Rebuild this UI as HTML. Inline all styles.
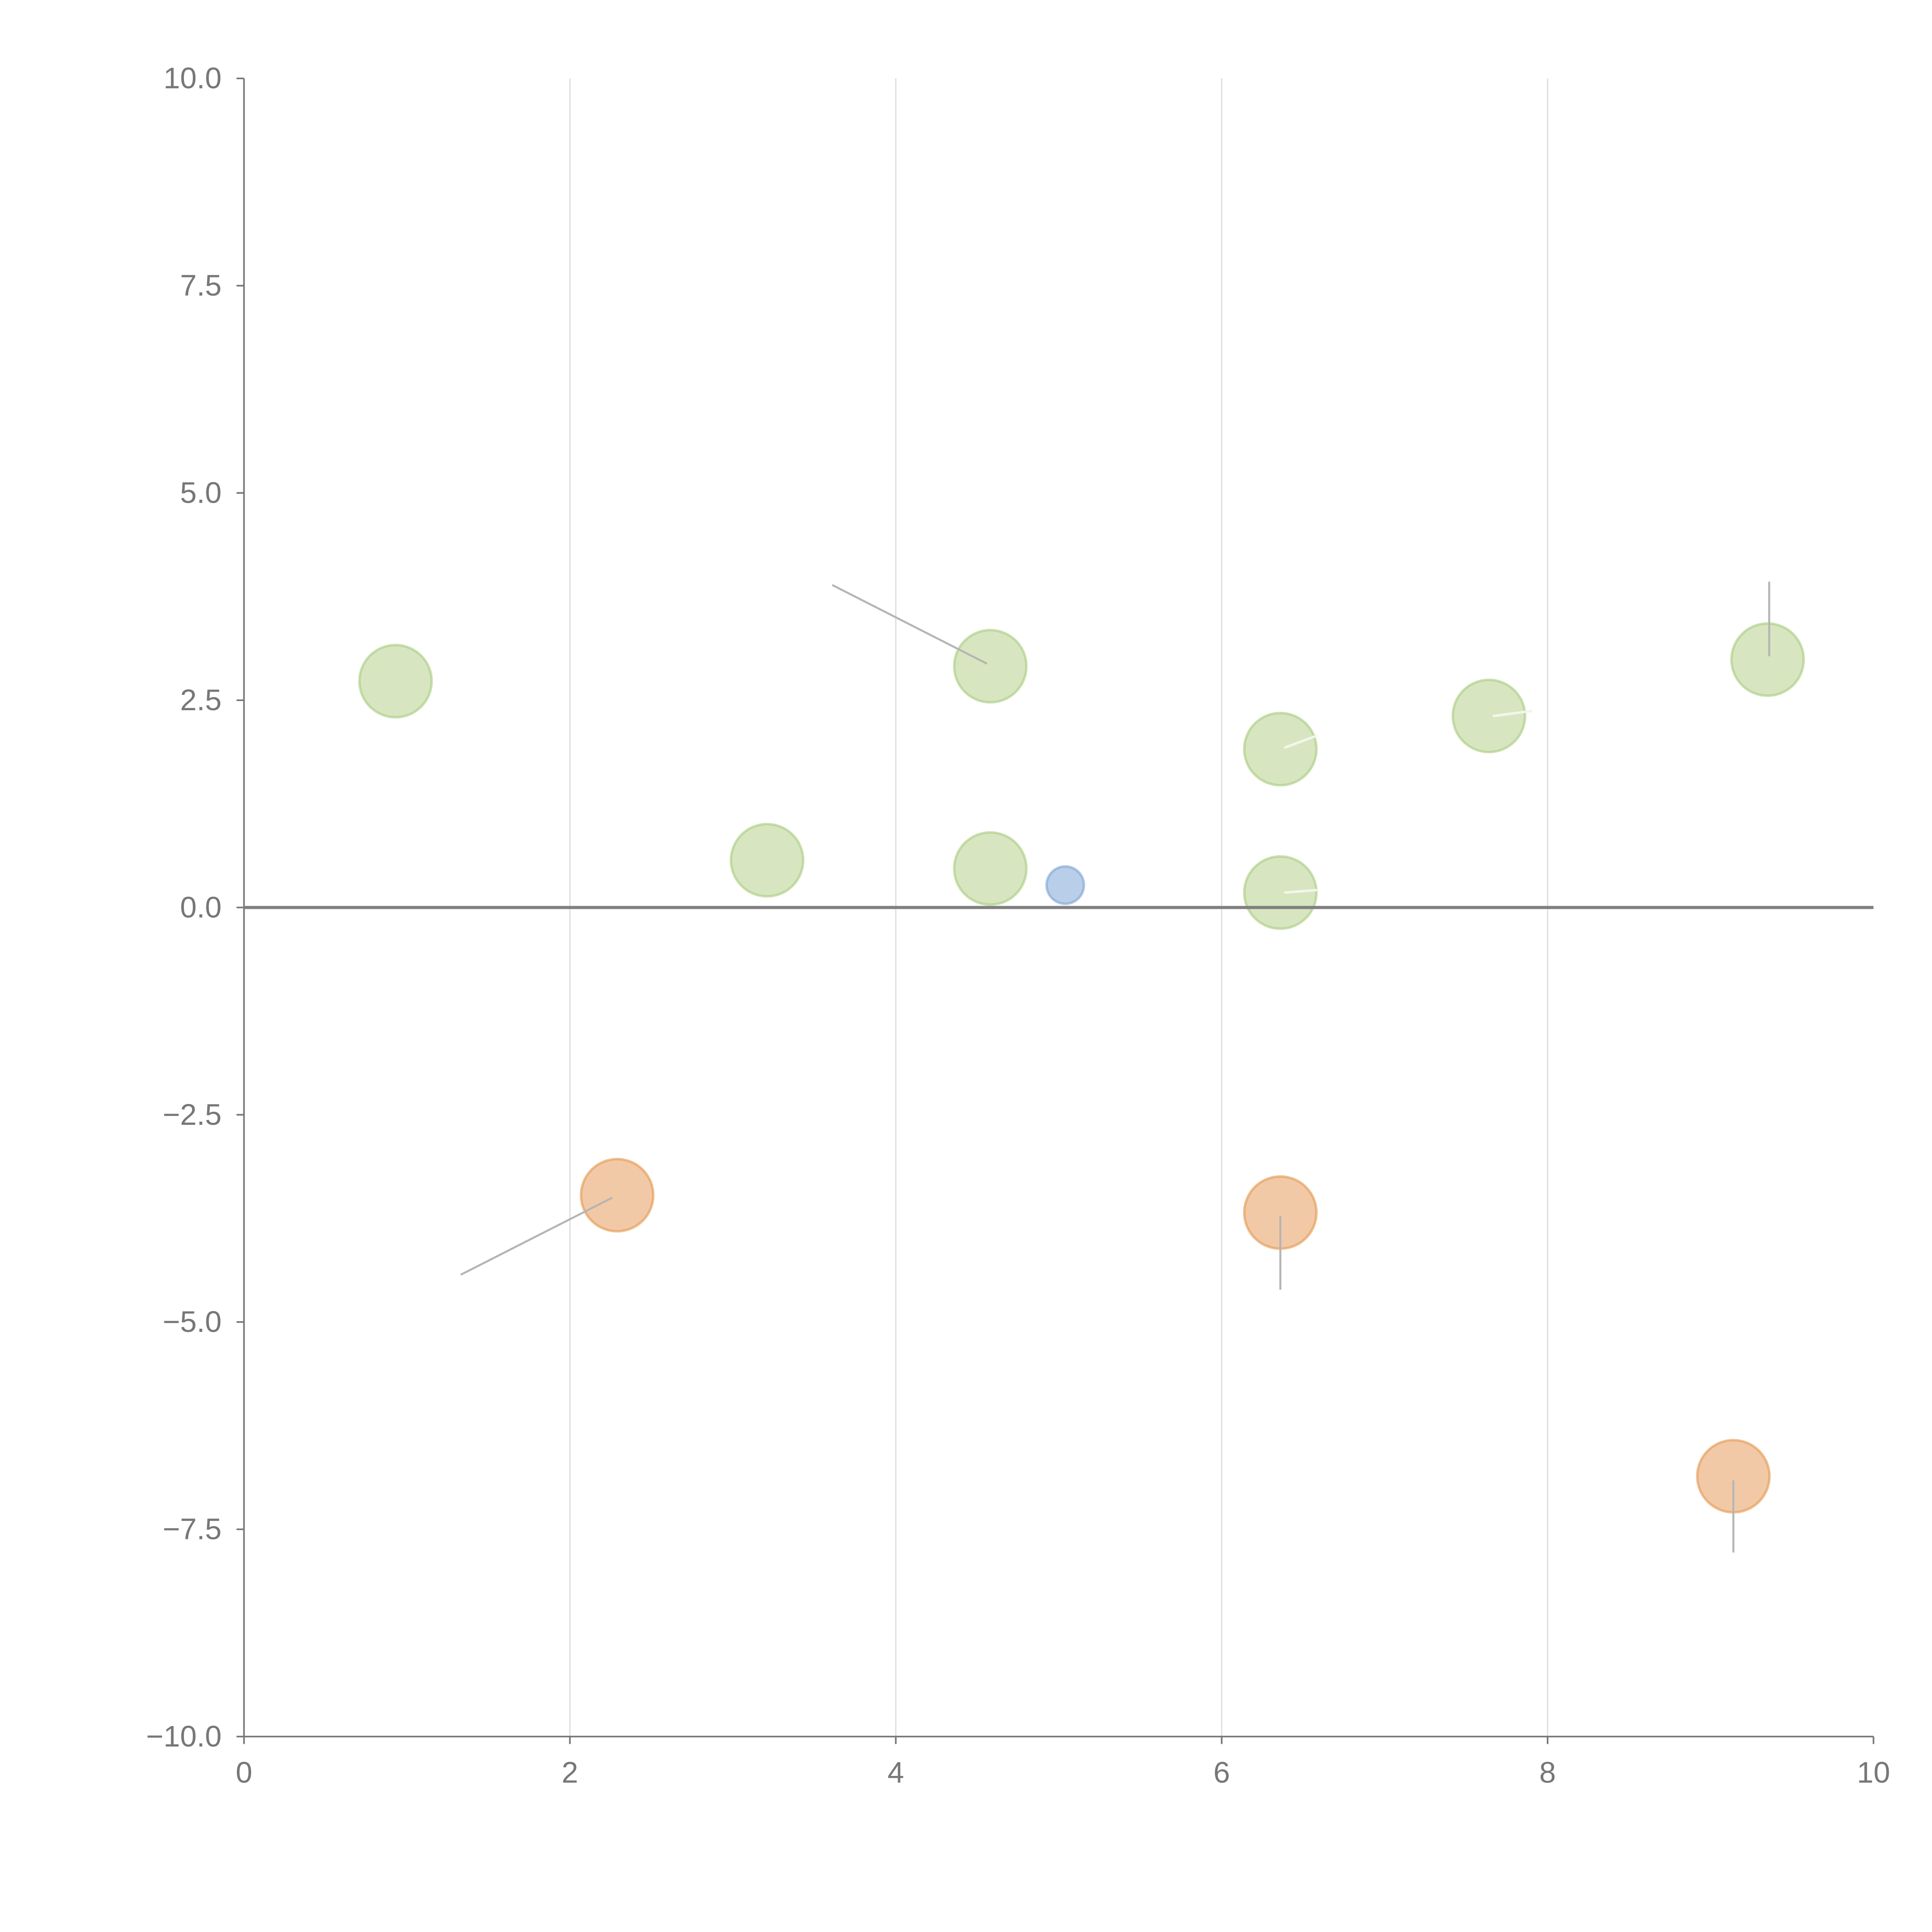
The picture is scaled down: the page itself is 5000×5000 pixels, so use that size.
<!DOCTYPE html>
<html><head><meta charset="utf-8"><style>
html,body{margin:0;padding:0;background:#fff;}
svg{display:block;}
text{font-family:"Liberation Sans",sans-serif;fill:#777;font-size:24px;}
</style></head><body>
<svg id="chart" width="5000" height="5000" viewBox="0 0 1552 1552" xmlns="http://www.w3.org/2000/svg">
<g id="grid"></g>
<g id="axes"></g>
<g id="marks"></g>
</svg>
<script>
const xTicks=[0,2,4,6,8,10];
const yTicks=[10,7.5,5,2.5,0,-2.5,-5,-7.5,-10];
const yTickLabels=["10.0","7.5","5.0","2.5","0.0","\u22122.5","\u22125.0","\u22127.5","\u221210.0"];
const greenX=[0.93,4.58,6.36,7.64,9.35,3.21,4.58,6.36];
const greenY=[2.73,2.91,1.91,2.31,2.99,0.57,0.47,0.18];
const blueX=[5.04];
const blueY=[0.27];
const orangeX=[2.29,6.36,9.14];
const orangeY=[-3.47,-3.68,-6.86];
const grayX1=[4.56,2.26,6.36,9.14,9.36];
const grayY1=[2.94,-3.50,-3.72,-6.91,3.03];
const grayX2=[3.61,1.33,6.36,9.14,9.36];
const grayY2=[3.89,-4.43,-4.61,-7.78,3.93];
const whiteX1=[6.39,7.67,6.39];
const whiteY1=[1.93,2.31,0.18];
const whiteX2=[6.58,7.90,6.58];
const whiteY2=[2.07,2.37,0.21];

const X0=196,X1=1505,Y0=63,Y1=1395;
const sx=v=>X0+(v-0)/(10-0)*(X1-X0);
const sy=v=>Y0+(10-v)/20*(Y1-Y0);
const NS="http://www.w3.org/2000/svg";
function mk(parent,tag,attrs){const e=document.createElementNS(NS,tag);for(const k in attrs)e.setAttribute(k,attrs[k]);document.getElementById(parent).appendChild(e);return e;}

xTicks.forEach((t,i)=>{
  if(t>0&&t<10){const g=mk('grid','line',{x1:sx(t),x2:sx(t),y1:Y0,y2:Y1,stroke:'#ddd','stroke-width':1});
  
  }
  const tk=mk('axes','line',{x1:sx(t),x2:sx(t),y1:Y1,y2:Y1+6,stroke:'#777','stroke-width':1.3});
  
  
  const tx=mk('axes','text',{x:sx(t),y:Y1+37,'text-anchor':'middle'});tx.textContent=t;
  
  
});
yTicks.forEach((t,i)=>{
  const tk=mk('axes','line',{x1:X0-6,x2:X0,y1:sy(t),y2:sy(t),stroke:'#777','stroke-width':1.3});
  
  
  const tx=mk('axes','text',{x:X0-18,y:sy(t)+8,'text-anchor':'end'});tx.textContent=yTickLabels[i];
  
  
});
let a=mk('axes','line',{x1:X0,x2:X0,y1:Y0,y2:Y1,stroke:'#777','stroke-width':1.3});


a=mk('axes','line',{x1:X0,x2:X1,y1:Y1,y2:Y1,stroke:'#777','stroke-width':1.3});



function bubbles(xs,ys,r,fill,stroke,name){
  xs.forEach((x,i)=>{const c=mk('marks','circle',{cx:sx(x),cy:sy(ys[i]),r:r,fill:fill,stroke:stroke,'stroke-width':2,'fill-opacity':0.85,'stroke-opacity':0.6});
  
  });
}
bubbles(greenX,greenY,29,'#d0e2b6','#a9cb7e','green-bubble');
bubbles(blueX,blueY,15,'#adc6e5','#7fa4d4','blue-bubble');
bubbles(orangeX,orangeY,29,'#eebf96','#e4974f','orange-bubble');

const z=mk('marks','line',{x1:X0,x2:X1,y1:sy(0),y2:sy(0),stroke:'#808080','stroke-width':2.5});



grayX1.forEach((x,i)=>{const l=mk('marks','line',{x1:sx(x),y1:sy(grayY1[i]),x2:sx(grayX2[i]),y2:sy(grayY2[i]),stroke:'#b5b5b5','stroke-width':1.6});

});
whiteX1.forEach((x,i)=>{const l=mk('marks','line',{x1:sx(x),y1:sy(whiteY1[i]),x2:sx(whiteX2[i]),y2:sy(whiteY2[i]),stroke:'#f2f6ea','stroke-width':2,'stroke-linecap':'round'});

});
</script>
</body></html>
